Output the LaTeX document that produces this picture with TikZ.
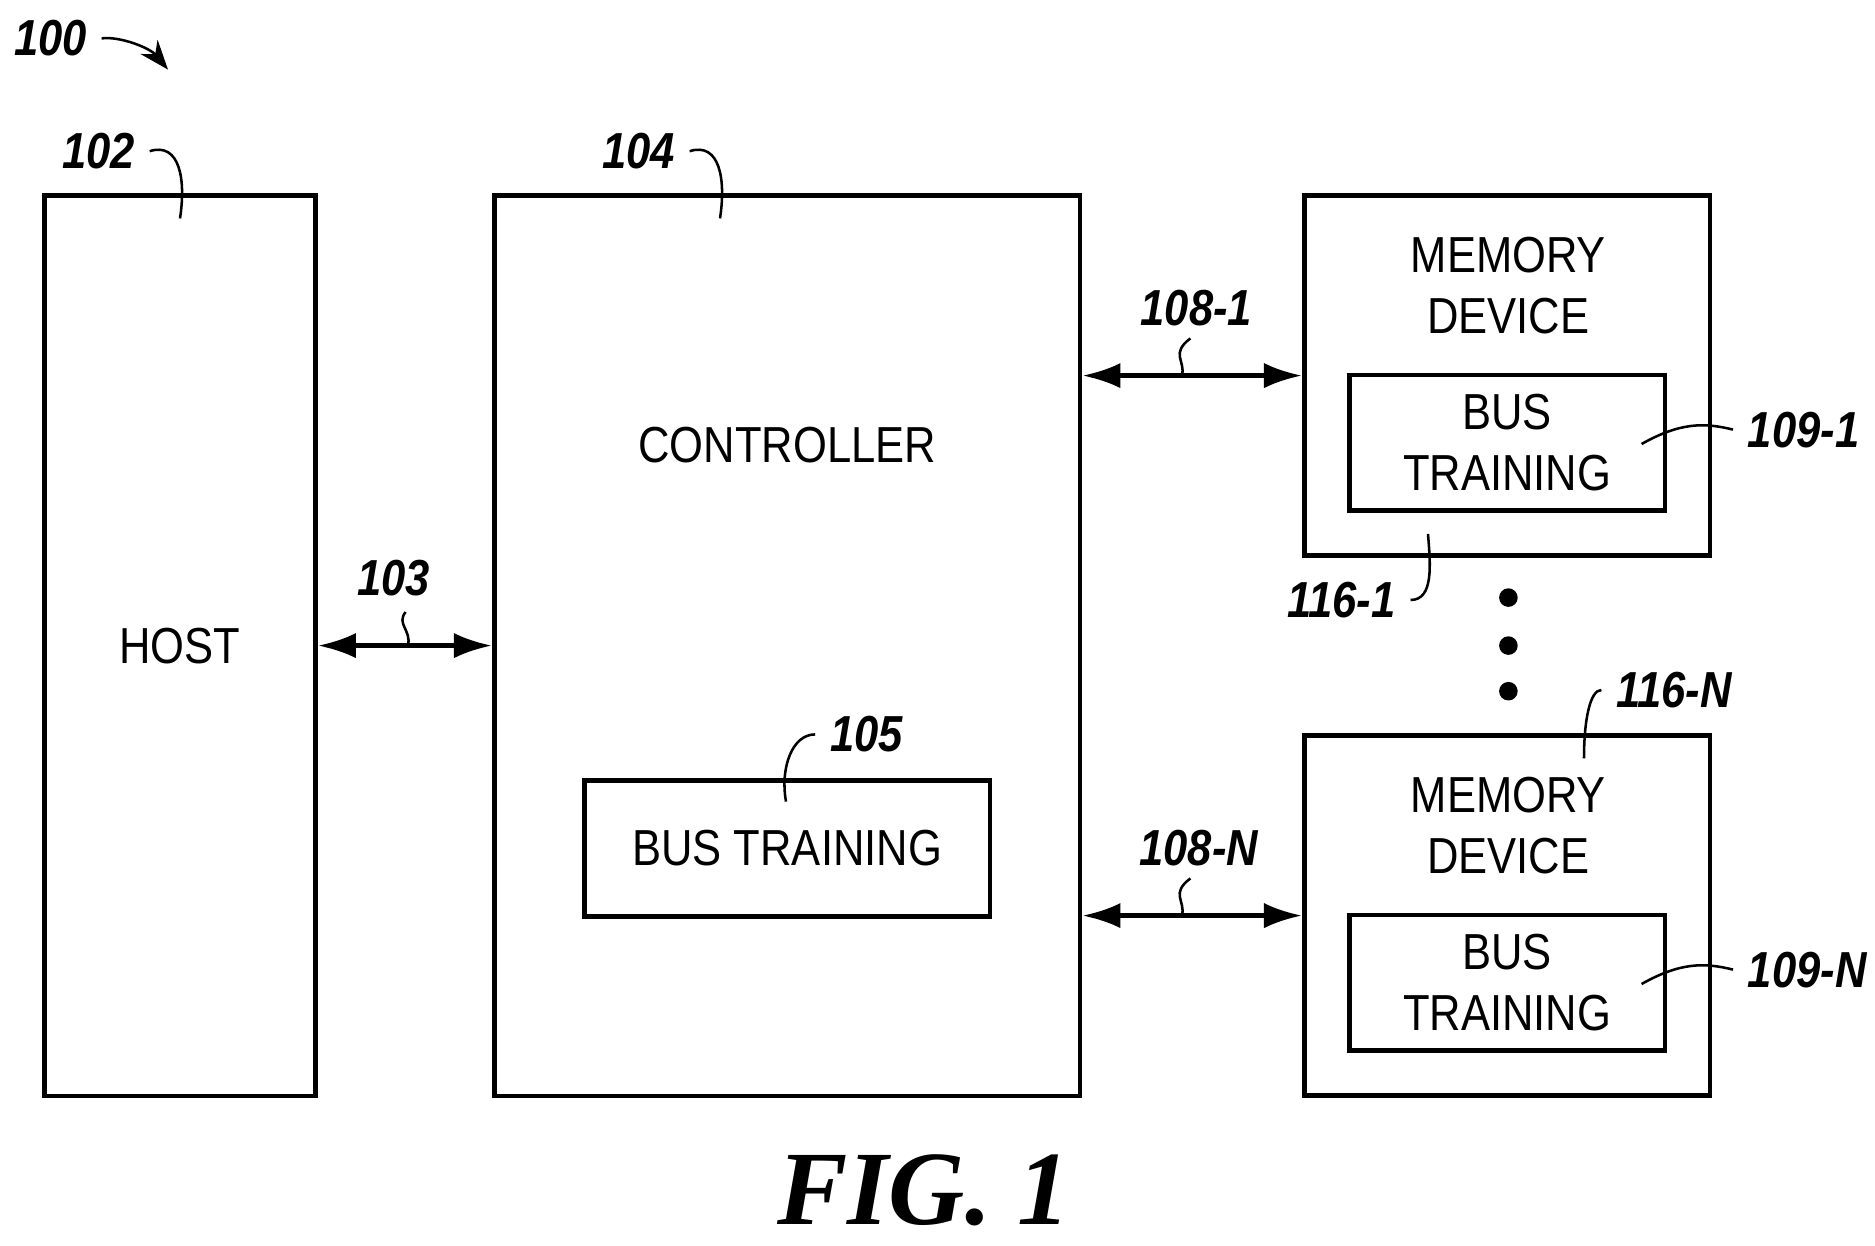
\documentclass[tikz,border=0pt]{standalone}
\usepackage{fontspec}
\setmainfont{Liberation Sans}
\newfontfamily\narrow[FakeStretch=0.86]{Liberation Sans}
\newfontfamily\figfont{Liberation Serif}
\usetikzlibrary{arrows.meta}
\begin{document}
\begin{tikzpicture}[x=0.01cm,y=-0.01cm,
  box/.style={draw,line width=1.1pt},
  txt/.style={font=\narrow\fontsize{12}{14.5}\selectfont,align=center},
  lbl/.style={font=\narrow\bfseries\itshape\fontsize{12}{14}\selectfont},
  lead/.style={line width=0.6pt},
  bus/.style={line width=1.1pt,{Latex[length=9pt,width=6pt]}-{Latex[length=9pt,width=6pt]}}]
\useasboundingbox (0,0) rectangle (1562.5,1038.3);
\node[box,minimum width=2.26cm,minimum height=7.5cm] (host) at (150,538) {};
\node[txt] at (host) {HOST};
\node[box,minimum width=4.88cm,minimum height=7.5cm] (ctrl) at (656,538) {};
\node[txt] at (656,371) {CONTROLLER};
\node[box,minimum width=3.38cm,minimum height=1.13cm,txt] (bt) at (656,707) {BUS TRAINING};
\node[box,minimum width=3.38cm,minimum height=3cm] (m1) at (1256,313) {};
\node[txt] at (1257,238) {MEMORY\\DEVICE};
\node[box,minimum width=2.63cm,minimum height=1.13cm,txt] (b1) at (1256,369) {BUS\\TRAINING};
\node[box,minimum width=3.38cm,minimum height=3cm] (mN) at (1256,763) {};
\node[txt] at (1257,688) {MEMORY\\DEVICE};
\node[box,minimum width=2.63cm,minimum height=1.13cm,txt] (bN) at (1256,819) {BUS\\TRAINING};
\draw[bus] (host.east |- 0,538) -- (ctrl.west |- 0,538);
\draw[bus] (ctrl.east |- m1) -- (m1.west);
\draw[bus] (ctrl.east |- mN) -- (mN.west);
\foreach \y in {498,538,576} \fill (1257,\y) circle (2.2pt);
\node[lbl] (l100) at (42,32) {100};
\node[lbl] (l102) at (82,126) {102};
\node[lbl] (l104) at (532,126) {104};
\node[lbl] (l103) at (328,482) {103};
\node[lbl] (l105) at (722,612) {105};
\node[lbl] (l1081) at (997,257) {108-1};
\node[lbl] (l108N) at (999,707) {108-N};
\node[lbl] (l1091) at (1503,358) {109-1};
\node[lbl] (l109N) at (1506,808) {109-N};
\node[lbl] (l1161) at (1118,500) {116-1};
\node[lbl] (l116N) at (1395,575) {116-N};
\coordinate (a100) at (140,58);
\draw[lead,-{Stealth[length=7pt]}] (l100.east) .. controls (100,30) and (125,40) .. (a100);
\draw[lead] (l102.east) .. controls (150,118) and (155,150) .. (150,182);
\draw[lead] (l104.east) .. controls (600,118) and (605,150) .. (600,182);
\draw[lead] (340,538) .. controls (343,525) and (330,520) .. (338,510);
\draw[lead] (l105.west) .. controls (660,612) and (650,640) .. (655,668);
\draw[lead] (985,313) .. controls (988,300) and (975,295) .. (992,282);
\draw[lead] (985,763) .. controls (988,750) and (975,745) .. (992,732);
\draw[lead] (l1091.west) .. controls (1420,352) and (1400,352) .. (1368,370);
\draw[lead] (l109N.west) .. controls (1420,802) and (1400,802) .. (1368,820);
\draw[lead] (l1161.east) .. controls (1195,500) and (1192,470) .. (1190,445);
\draw[lead] (l116N.west) .. controls (1325,575) and (1320,600) .. (1320,632);
\node[font=\figfont\bfseries\itshape\fontsize{25}{28}\selectfont] (fig) at (770,992) {FIG. 1};
\end{tikzpicture}
\end{document}
